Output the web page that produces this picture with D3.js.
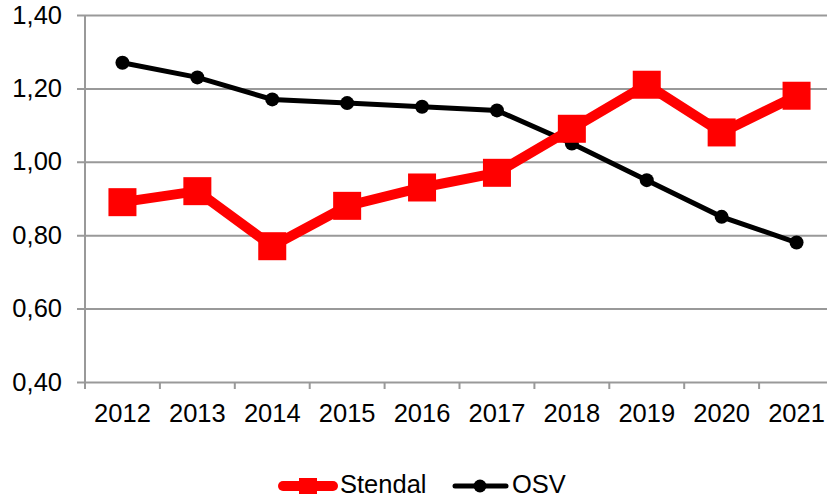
<!DOCTYPE html>
<html>
<head>
<meta charset="utf-8">
<script src="https://cdn.jsdelivr.net/npm/d3@7"></script>
<style>
  body { margin: 0; background: #fff; }
  text { font-family: "Liberation Sans", Arial, sans-serif; }
</style>
</head>
<body>
<div id="chart"></div>
<script>
var years = ["2012", "2013", "2014", "2015", "2016", "2017", "2018", "2019", "2020", "2021"];
var stendal = [0.89, 0.92, 0.77, 0.88, 0.93, 0.97, 1.09, 1.21, 1.08, 1.18];
var osv = [1.27, 1.23, 1.17, 1.16, 1.15, 1.14, 1.05, 0.95, 0.85, 0.78];
var yTicks = [0.40, 0.60, 0.80, 1.00, 1.20, 1.40];

var margin = {top: 15, left: 85},
    width = 749,
    height = 367;

var svg = d3.select("#chart")
  .append("svg")
    .attr("width", 827)
    .attr("height", 499)
  .append("g")
    .attr("transform", "translate(" + margin.left + "," + margin.top + ")");

var x = d3.scaleBand()
    .domain(years)
    .range([0, width]);

var y = d3.scaleLinear()
    .domain([0.4, 1.4])
    .range([height, 0]);

var fmt = function(d) { return d3.format(".2f")(d).replace(".", ","); };

// gridlines + y axis
var yAxis = svg.append("g")
    .call(d3.axisLeft(y).tickValues(yTicks).tickSize(-width).tickSizeOuter(0).tickFormat(fmt).tickPadding(23));
yAxis.select(".domain").remove();
yAxis.selectAll(".tick line")
    .attr("x1", -8)
    .attr("stroke", "#999")
    .attr("stroke-width", 2);
yAxis.selectAll(".tick text")
    .attr("font-size", 25.5)
    .attr("fill", "#000");

// x axis
var xAxis = svg.append("g")
    .attr("transform", "translate(0," + height + ")")
    .call(d3.axisBottom(x).tickSize(0).tickPadding(22));
xAxis.select(".domain").remove();
xAxis.selectAll(".tick text")
    .attr("font-size", 25.5)
    .attr("fill", "#000");
xAxis.selectAll(".sep")
    .data(years.concat(["end"]))
    .enter()
    .append("line")
      .attr("x1", function(d, i) { return i * x.bandwidth(); })
      .attr("x2", function(d, i) { return i * x.bandwidth(); })
      .attr("y1", 0)
      .attr("y2", 7)
      .attr("stroke", "#999")
      .attr("stroke-width", 2);

svg.append("line")
    .attr("x1", 0).attr("x2", 0)
    .attr("y1", 0).attr("y2", height + 7)
    .attr("stroke", "#999")
    .attr("stroke-width", 2);

var cx = function(d, i) { return x(years[i]) + x.bandwidth() / 2; };

var line = d3.line()
    .x(cx)
    .y(function(d) { return y(d); });

// OSV
svg.append("path")
    .datum(osv)
    .attr("d", line)
    .attr("fill", "none")
    .attr("stroke", "#000")
    .attr("stroke-width", 5);
svg.selectAll(".osv")
    .data(osv)
    .enter()
    .append("circle")
      .attr("cx", cx)
      .attr("cy", function(d) { return y(d); })
      .attr("r", 7)
      .attr("fill", "#000");

// Stendal
svg.append("path")
    .datum(stendal)
    .attr("d", line)
    .attr("fill", "none")
    .attr("stroke", "#ff0000")
    .attr("stroke-width", 10);
svg.selectAll(".stendal")
    .data(stendal)
    .enter()
    .append("rect")
      .attr("x", function(d, i) { return cx(d, i) - 14; })
      .attr("y", function(d) { return y(d) - 14; })
      .attr("width", 28)
      .attr("height", 28)
      .attr("fill", "#ff0000");

// legend
var legend = d3.select("svg").append("g").attr("transform", "translate(0,486)");
legend.append("line")
    .attr("x1", 283).attr("x2", 333)
    .attr("stroke", "#ff0000").attr("stroke-width", 10).attr("stroke-linecap", "round");
legend.append("rect")
    .attr("x", 299).attr("y", -8).attr("width", 18).attr("height", 16)
    .attr("fill", "#ff0000");
legend.append("text")
    .attr("x", 340).attr("y", 7)
    .attr("font-size", 25.5)
    .text("Stendal");
legend.append("line")
    .attr("x1", 455).attr("x2", 506)
    .attr("stroke", "#000").attr("stroke-width", 5).attr("stroke-linecap", "round");
legend.append("circle")
    .attr("cx", 480).attr("r", 6.5)
    .attr("fill", "#000");
legend.append("text")
    .attr("x", 512).attr("y", 7)
    .attr("font-size", 25.5)
    .text("OSV");
</script>
</body>
</html>
